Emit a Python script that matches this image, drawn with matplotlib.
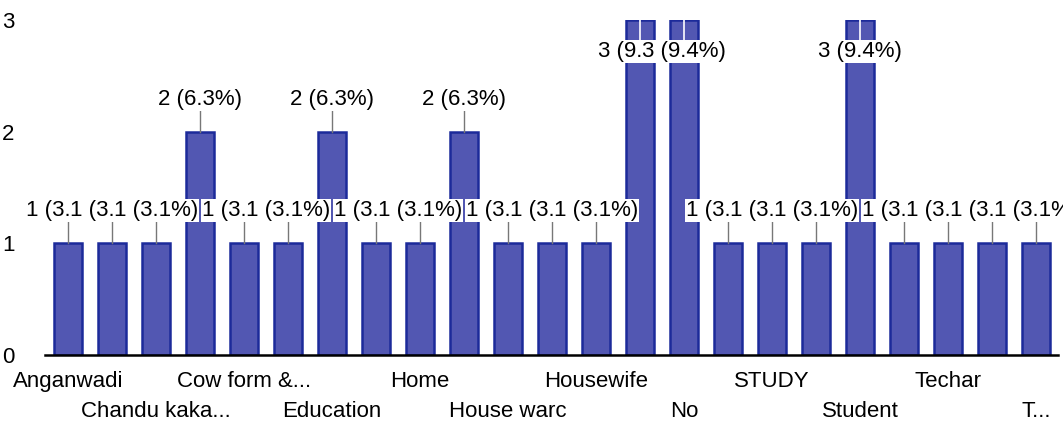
import matplotlib
matplotlib.use("Agg")
import matplotlib.pyplot as plt

# Data (23 categories, only every 2nd label is shown)
categories = ["Anganwadi", "", "Chandu kaka...", "", "Cow form &...", "", "Education", "",
              "Home", "", "House warc", "", "Housewife", "", "No", "", "STUDY", "",
              "Student", "", "Techar", "", "T..."]
values = [1, 1, 1, 2, 1, 1, 2, 1, 1, 2, 1, 1, 1, 3, 3, 1, 1, 1, 3, 1, 1, 1, 1]
pcts = [3.1, 3.1, 3.1, 6.3, 3.1, 3.1, 6.3, 3.1, 3.1, 6.3, 3.1, 3.1, 3.1, 9.3, 9.4,
        3.1, 3.1, 3.1, 9.4, 3.1, 3.1, 3.1, 3.1]
y_ticks = [0, 1, 2, 3]

plt.rcParams['font.family'] = ['Liberation Sans', 'DejaVu Sans']
FS = 16

fig = plt.figure(figsize=(10.63, 4.26), dpi=100)
ax = fig.add_axes([0.0423, 0.167, 0.9530, 0.786])

x = list(range(len(values)))
ymax = 3
ax.bar(x, values, width=0.64, color='#5257b2', edgecolor='#1c2a9a', linewidth=1.8, zorder=2)

ax.set_xlim(-0.52, 22.5)
ax.set_ylim(0, ymax)

# value labels with connector lines
for i, (v, p) in enumerate(zip(values, pcts)):
    label = f"{v} ({p}%)"
    if v + 0.4 > ymax:
        ax.plot([i, i], [ymax, ymax - 0.18], color='white', lw=1.2, zorder=3, clip_on=False)
        ty = ymax - 0.28
    else:
        ax.plot([i, i], [v, v + 0.19], color='#777777', lw=1.0, zorder=3)
        ty = v + 0.29
    ax.text(i, ty, label, ha='center', va='center', fontsize=FS, zorder=4 + i,
            bbox=dict(boxstyle='square,pad=0.05', fc='white', ec='none'))

# category labels in two staggered rows
row = 0
for i, name in enumerate(categories):
    if not name:
        continue
    yy = -0.08 if row == 0 else -0.17
    ax.text(i, yy, name, ha='center', va='center', fontsize=FS,
            transform=ax.get_xaxis_transform(), clip_on=False)
    row = 1 - row

ax.set_xticks([])
ax.set_yticks(y_ticks)
ax.set_yticklabels([str(t) for t in y_ticks], fontsize=FS)
ax.tick_params(axis='y', length=0, pad=22)
for s in ['top', 'right', 'left']:
    ax.spines[s].set_visible(False)
ax.spines['bottom'].set_linewidth(1.8)
ax.spines['bottom'].set_zorder(5)

fig.savefig("out.png", dpi=100, facecolor='white')
